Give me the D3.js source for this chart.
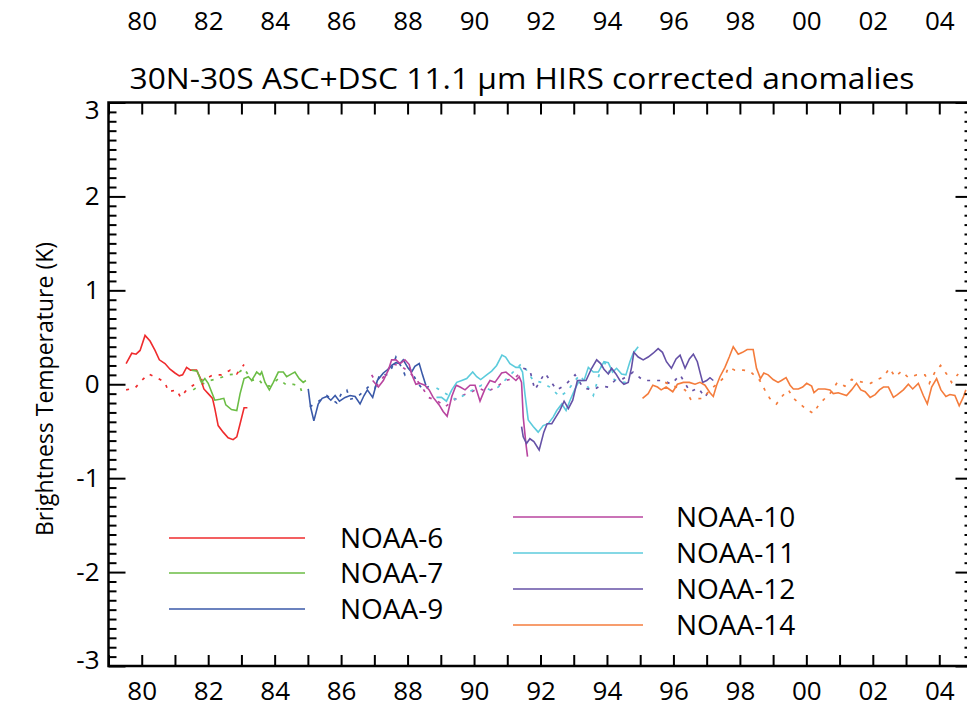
<!DOCTYPE html>
<html lang="en">
<head>
<meta charset="utf-8">
<script src="https://d3js.org/d3.v7.min.js"></script>
<style>
  body { margin: 0; background: #fff; }
  svg text { font-family: "Open Sans", "Noto Sans", sans-serif; fill: #000; }
</style>
</head>
<body>
<svg width="967" height="725"></svg>
<script>

// [decimal year, anomaly K] -- solid and dotted trace for each satellite
var n6Solid = [[1979.53,0.22],[1979.70,0.33],[1979.83,0.32],[1979.95,0.36],[1980.10,0.52],[1980.25,0.46],[1980.40,0.36],[1980.53,0.26],[1980.70,0.22],[1980.85,0.16],[1981.00,0.12],[1981.13,0.09],[1981.23,0.10],[1981.35,0.18],[1981.47,0.15],[1981.65,0.15],[1981.77,0.06],[1981.87,-0.05],[1982.00,-0.10],[1982.13,-0.15],[1982.20,-0.26],[1982.30,-0.44],[1982.45,-0.51],[1982.60,-0.57],[1982.75,-0.59],[1982.86,-0.56],[1982.96,-0.42],[1983.08,-0.25],[1983.18,-0.25]];
var n6Dotted = [[1979.53,-0.06],[1979.80,-0.04],[1980.00,0.04],[1980.20,0.11],[1980.45,0.07],[1980.70,0.02],[1980.80,-0.08],[1981.05,-0.06],[1981.17,-0.14],[1981.35,-0.06],[1981.55,-0.01],[1981.75,0.04],[1981.93,0.06],[1982.15,0.10],[1982.40,0.10],[1982.66,0.15],[1982.86,0.11],[1983.08,0.21]];

var n7Solid = [[1981.50,0.15],[1981.67,0.14],[1981.80,0.02],[1981.90,0.06],[1982.00,0.01],[1982.10,-0.08],[1982.20,-0.17],[1982.35,-0.16],[1982.47,-0.15],[1982.53,-0.22],[1982.70,-0.27],[1982.86,-0.28],[1982.96,-0.10],[1983.08,0.06],[1983.21,0.08],[1983.31,0.04],[1983.46,0.13],[1983.56,0.10],[1983.61,0.13],[1983.71,0.02],[1983.84,-0.06],[1983.96,0.02],[1984.11,0.13],[1984.26,0.13],[1984.36,0.08],[1984.51,0.11],[1984.61,0.13],[1984.74,0.06],[1984.86,0.02],[1984.94,0.04]];
var n7Dotted = [[1981.55,-0.06],[1981.75,-0.01],[1982.05,0.04],[1982.30,0.06],[1982.60,0.10],[1982.86,0.11],[1983.08,0.17],[1983.31,0.04],[1983.50,0.06],[1983.66,-0.01],[1983.86,-0.02],[1984.11,0.06],[1984.36,-0.01],[1984.56,0.00],[1984.76,-0.02],[1984.86,-0.13]];

var n9Solid = [[1985.01,-0.05],[1985.08,-0.24],[1985.18,-0.39],[1985.31,-0.21],[1985.43,-0.15],[1985.57,-0.13],[1985.69,-0.17],[1985.82,-0.12],[1985.95,-0.18],[1986.12,-0.14],[1986.27,-0.12],[1986.42,-0.13],[1986.57,-0.21],[1986.69,-0.12],[1986.79,-0.06],[1986.95,-0.14],[1987.09,0.04],[1987.27,0.12],[1987.42,0.16],[1987.52,0.20],[1987.65,0.23],[1987.77,0.22],[1987.87,0.26],[1988.02,0.17],[1988.12,0.13],[1988.22,0.19],[1988.35,0.22],[1988.45,0.10],[1988.55,-0.01]];
var n9Dotted = [[1985.06,-0.24],[1985.41,-0.16],[1985.57,-0.12],[1985.87,-0.20],[1986.02,-0.09],[1986.17,-0.06],[1986.27,-0.16],[1986.47,-0.14],[1986.67,-0.08],[1986.87,-0.01],[1987.02,-0.04],[1987.17,0.11],[1987.37,0.10],[1987.52,0.17],[1987.65,0.29],[1987.82,0.18],[1987.92,0.10],[1988.07,0.17],[1988.29,0.02],[1988.47,-0.06],[1988.65,-0.02]];

var n10Solid = [[1986.95,0.04],[1987.12,-0.03],[1987.27,0.04],[1987.42,0.15],[1987.52,0.26],[1987.65,0.26],[1987.77,0.22],[1987.92,0.26],[1988.05,0.21],[1988.12,0.11],[1988.25,0.00],[1988.37,0.01],[1988.52,-0.01],[1988.65,-0.06],[1988.77,-0.14],[1988.95,-0.22],[1989.07,-0.29],[1989.19,-0.34],[1989.33,-0.13],[1989.46,-0.01],[1989.58,-0.03],[1989.73,-0.06],[1989.88,-0.01],[1990.03,-0.01],[1990.18,-0.18],[1990.33,-0.05],[1990.48,0.04],[1990.63,0.02],[1990.83,0.12],[1990.96,0.13],[1991.13,0.08],[1991.26,0.04],[1991.36,0.08],[1991.43,0.02],[1991.48,-0.35],[1991.56,-0.63],[1991.61,-0.77]];
var n10Dotted = [[1986.92,0.10],[1987.09,-0.01],[1987.32,0.10],[1987.52,0.22],[1987.82,0.19],[1987.97,0.15],[1988.19,0.08],[1988.42,-0.02],[1988.62,-0.14],[1988.87,-0.17],[1989.13,-0.24],[1989.43,-0.16],[1989.63,-0.12],[1989.88,-0.09],[1990.13,-0.04],[1990.38,-0.08],[1990.68,-0.03],[1990.93,0.04],[1991.20,0.06],[1991.40,0.12]];

var n11Solid = [[1988.87,-0.14],[1989.02,-0.14],[1989.17,-0.18],[1989.33,-0.06],[1989.48,0.02],[1989.63,0.04],[1989.78,0.06],[1989.96,0.13],[1990.08,0.08],[1990.20,0.05],[1990.38,0.10],[1990.53,0.14],[1990.68,0.20],[1990.84,0.31],[1990.95,0.29],[1991.08,0.22],[1991.26,0.18],[1991.38,0.18],[1991.46,0.13],[1991.53,-0.10],[1991.63,-0.38],[1991.78,-0.45],[1991.93,-0.51],[1992.08,-0.44],[1992.23,-0.42],[1992.38,-0.35],[1992.49,-0.28],[1992.64,-0.21],[1992.77,-0.28],[1992.89,-0.17],[1993.04,-0.05],[1993.17,0.04],[1993.31,0.04],[1993.44,0.18],[1993.59,0.13],[1993.74,0.13],[1993.91,0.24],[1994.04,0.23],[1994.17,0.13],[1994.29,0.17],[1994.44,0.11],[1994.57,0.10],[1994.69,0.24],[1994.79,0.33],[1994.94,0.40]];
var n11Dotted = [[1988.87,-0.04],[1989.48,-0.17],[1989.63,-0.13],[1989.78,-0.10],[1989.96,-0.06],[1990.23,-0.01],[1990.48,-0.06],[1990.73,-0.03],[1990.98,0.06],[1991.43,0.22],[1991.58,0.15],[1991.78,0.04],[1992.03,0.02],[1992.28,-0.03],[1992.58,-0.13],[1992.79,-0.08],[1993.04,0.04],[1993.19,0.10],[1993.59,-0.12],[1993.89,0.26],[1994.17,0.06],[1994.39,0.02],[1994.59,0.02],[1994.69,0.04]];

var n12Solid = [[1991.43,-0.45],[1991.48,-0.56],[1991.58,-0.63],[1991.68,-0.58],[1991.80,-0.61],[1991.96,-0.70],[1992.10,-0.51],[1992.20,-0.42],[1992.34,-0.42],[1992.46,-0.35],[1992.58,-0.28],[1992.71,-0.18],[1992.84,-0.26],[1992.97,-0.17],[1993.11,0.04],[1993.24,0.04],[1993.37,0.04],[1993.54,0.17],[1993.69,0.26],[1993.81,0.22],[1993.91,0.16],[1994.04,0.11],[1994.14,0.17],[1994.27,0.11],[1994.39,0.04],[1994.51,0.00],[1994.64,0.02],[1994.74,0.18],[1994.81,0.34],[1994.94,0.29],[1995.09,0.26],[1995.24,0.29],[1995.39,0.33],[1995.54,0.38],[1995.67,0.34],[1995.79,0.24],[1995.94,0.17],[1996.08,0.27],[1996.20,0.31],[1996.35,0.17],[1996.48,0.27],[1996.60,0.32],[1996.72,0.24],[1996.82,0.10],[1996.88,0.02],[1997.00,0.04],[1997.10,0.07],[1997.20,0.04]];
var n12Dotted = [[1991.48,0.17],[1991.68,0.15],[1991.83,-0.06],[1992.13,0.12],[1992.49,-0.06],[1992.74,-0.01],[1993.04,0.10],[1993.29,-0.04],[1993.59,-0.06],[1993.79,-0.02],[1994.04,-0.03],[1994.24,0.04],[1994.49,0.06],[1994.79,0.13],[1995.09,0.04],[1995.34,0.04],[1995.69,0.04],[1995.94,0.00],[1996.20,0.10],[1996.50,-0.08],[1996.75,-0.04],[1996.95,-0.14],[1997.08,-0.06]];

var n14Solid = [[1995.07,-0.15],[1995.24,-0.10],[1995.38,-0.01],[1995.52,-0.03],[1995.63,-0.06],[1995.78,-0.03],[1995.98,-0.08],[1996.12,0.00],[1996.30,0.02],[1996.48,0.02],[1996.65,0.00],[1996.80,0.02],[1996.95,-0.01],[1997.10,-0.09],[1997.20,-0.13],[1997.30,-0.01],[1997.40,0.08],[1997.55,0.18],[1997.68,0.29],[1997.80,0.40],[1997.95,0.32],[1998.08,0.34],[1998.22,0.37],[1998.40,0.37],[1998.50,0.17],[1998.62,0.06],[1998.72,0.12],[1998.85,0.10],[1999.00,0.05],[1999.15,0.02],[1999.25,0.04],[1999.39,0.07],[1999.51,-0.01],[1999.61,-0.05],[1999.76,-0.05],[1999.89,-0.03],[2000.01,0.01],[2000.16,-0.02],[2000.23,-0.09],[2000.36,-0.05],[2000.56,-0.05],[2000.71,-0.06],[2000.81,-0.10],[2000.96,-0.09],[2001.21,-0.12],[2001.36,-0.06],[2001.51,0.01],[2001.64,-0.06],[2001.77,-0.08],[2001.92,-0.14],[2002.07,-0.11],[2002.20,-0.06],[2002.32,-0.03],[2002.47,-0.03],[2002.62,-0.14],[2002.74,-0.11],[2002.92,-0.06],[2003.07,0.00],[2003.20,-0.05],[2003.37,0.01],[2003.52,-0.12],[2003.64,-0.21],[2003.77,-0.03],[2003.92,0.06],[2004.05,-0.06],[2004.20,-0.13],[2004.32,-0.11],[2004.47,-0.12],[2004.60,-0.23],[2004.72,-0.14],[2004.80,-0.06]];
var n14Dotted = [[1995.75,0.02],[1996.00,-0.02],[1996.35,-0.06],[1996.52,-0.16],[1996.90,-0.15],[1997.10,-0.06],[1997.30,0.00],[1997.55,0.08],[1997.65,0.18],[1997.85,0.15],[1998.10,0.15],[1998.30,0.14],[1998.60,0.04],[1998.75,-0.06],[1998.90,-0.15],[1999.10,-0.21],[1999.29,-0.12],[1999.46,-0.06],[1999.61,-0.15],[1999.81,-0.21],[2000.01,-0.27],[2000.21,-0.31],[2000.39,-0.21],[2000.59,-0.14],[2000.76,-0.08],[2000.93,0.02],[2001.16,-0.02],[2001.36,0.05],[2001.71,0.02],[2001.93,0.01],[2002.13,0.05],[2002.33,0.08],[2002.50,0.17],[2002.67,0.08],[2002.87,0.14],[2003.07,0.07],[2003.32,0.10],[2003.57,0.10],[2003.70,0.01],[2003.87,0.13],[2004.04,0.20],[2004.22,0.11],[2004.37,0.02],[2004.57,0.11]];

var names = ["NOAA-6", "NOAA-7", "NOAA-9", "NOAA-10", "NOAA-11", "NOAA-12", "NOAA-14"];
var colors = ["#ef2b2d", "#6bbd45", "#3a59a8", "#b8449f", "#5ccbdc", "#6551a6", "#f47c3c"];
var solids = [n6Solid, n7Solid, n9Solid, n10Solid, n11Solid, n12Solid, n14Solid];
var dotteds = [n6Dotted, n7Dotted, n9Dotted, n10Dotted, n11Dotted, n12Dotted, n14Dotted];

var title = "30N-30S ASC+DSC 11.1 \u03bcm HIRS corrected anomalies";
var yTitle = "Brightness Temperature (K)";
var yearTicks = d3.range(1979, 2006);
var yMajor = [-3, -2, -1, 0, 1, 2, 3];

var svg = d3.select("svg");
var pL = 108.5, pR = 972.5, pT = 102.5, pB = 666;

var x = d3.scaleLinear().domain([1979, 2005]).range([pL, pR]);
var y = d3.scaleLinear().domain([-3, 3]).range([pB, pT]);

var yearFmt = function (d) { return d % 2 === 0 ? String(d % 100).padStart(2, "0") : ""; };

// clip so the lines stay in the box
svg.append("clipPath").attr("id", "plot")
  .append("rect").attr("x", pL).attr("y", pT).attr("width", pR - pL).attr("height", pB - pT);

// data lines
var line = d3.line().x(function (d) { return x(d[0]); }).y(function (d) { return y(d[1]); });
var g = svg.append("g").attr("clip-path", "url(#plot)");
dotteds.forEach(function (s, i) {
  g.append("path").datum(s).attr("d", line)
    .attr("fill", "none").attr("stroke", colors[i]).attr("stroke-width", 1.7)
    .attr("stroke-dasharray", "3,7");
});
solids.forEach(function (s, i) {
  g.append("path").datum(s).attr("d", line)
    .attr("fill", "none").attr("stroke", colors[i]).attr("stroke-width", 1.6);
});

// axes, ticks point inward
function styleAxis(sel, fs) {
  sel.select(".domain").remove();
  sel.selectAll(".tick line").attr("stroke", "#000").attr("stroke-width", 2);
  sel.selectAll("text").attr("font-size", fs).attr("font-family", "Open Sans");
}

svg.append("g").attr("transform", "translate(0," + pB + ")")
  .call(d3.axisBottom(x).tickValues(yearTicks).tickSize(-11).tickPadding(16).tickFormat(yearFmt))
  .call(styleAxis, 26);
svg.append("g").attr("transform", "translate(0," + pT + ")")
  .call(d3.axisTop(x).tickValues(yearTicks).tickSize(-12).tickFormat(""))
  .call(styleAxis, 26);
// labels above the title
svg.append("g").attr("transform", "translate(0,30)")
  .call(d3.axisTop(x).tickValues(yearTicks).tickSize(0).tickPadding(0).tickFormat(yearFmt))
  .call(styleAxis, 26);

var yMinor = d3.range(-30, 31).map(function (d) { return d / 10; }).filter(function (d) { return Math.abs(d % 1) > 0.01; });
var yAx = svg.append("g").attr("transform", "translate(" + pL + ",0)")
  .call(d3.axisLeft(y).tickValues(yMajor).tickSize(-17).tickPadding(9).tickFormat(function (d) { return String(d); }))
  .call(styleAxis, 26);
// end labels sit a little inside the box, as in the original
yAx.selectAll(".tick text").attr("dy", function (d) { return d === 3 ? "0.62em" : d === -3 ? "0.1em" : "0.32em"; });
svg.append("g").attr("transform", "translate(" + pL + ",0)")
  .call(d3.axisLeft(y).tickValues(yMinor).tickSize(-8).tickFormat(""))
  .call(styleAxis, 26);
svg.append("g").attr("transform", "translate(" + pR + ",0)")
  .call(d3.axisRight(y).tickValues(yMajor).tickSize(-17).tickFormat(""))
  .call(styleAxis, 26);
svg.append("g").attr("transform", "translate(" + pR + ",0)")
  .call(d3.axisRight(y).tickValues(yMinor).tickSize(-8).tickFormat(""))
  .call(styleAxis, 26);

svg.append("rect").attr("x", pL).attr("y", pT).attr("width", pR - pL).attr("height", pB - pT)
  .attr("fill", "none").attr("stroke", "#000").attr("stroke-width", 2.5);

// titles
svg.append("text").attr("x", 522).attr("y", 89).attr("text-anchor", "middle")
  .attr("font-size", 30).attr("textLength", 785).attr("lengthAdjust", "spacingAndGlyphs").text(title);
svg.append("text").attr("transform", "translate(53,389) rotate(-90)").attr("text-anchor", "middle")
  .attr("font-size", 23).text(yTitle);

// legend: two columns
var legRows = [[169, 305, 340, 538], [169, 305, 340, 573], [169, 305, 340, 609],
               [513, 643, 676, 517], [513, 643, 676, 553], [513, 643, 676, 589], [513, 643, 676, 625]];
var leg = svg.append("g").selectAll("g").data(names).join("g");
leg.append("line")
  .attr("x1", function (d, i) { return legRows[i][0]; })
  .attr("x2", function (d, i) { return legRows[i][1]; })
  .attr("y1", function (d, i) { return legRows[i][3]; })
  .attr("y2", function (d, i) { return legRows[i][3]; })
  .attr("stroke", function (d, i) { return colors[i]; }).attr("stroke-width", 1.6);
leg.append("text")
  .attr("x", function (d, i) { return legRows[i][2]; })
  .attr("y", function (d, i) { return legRows[i][3]; })
  .attr("dy", "0.36em").attr("font-size", 28)
  .text(function (d) { return d; });

</script>
</body>
</html>
